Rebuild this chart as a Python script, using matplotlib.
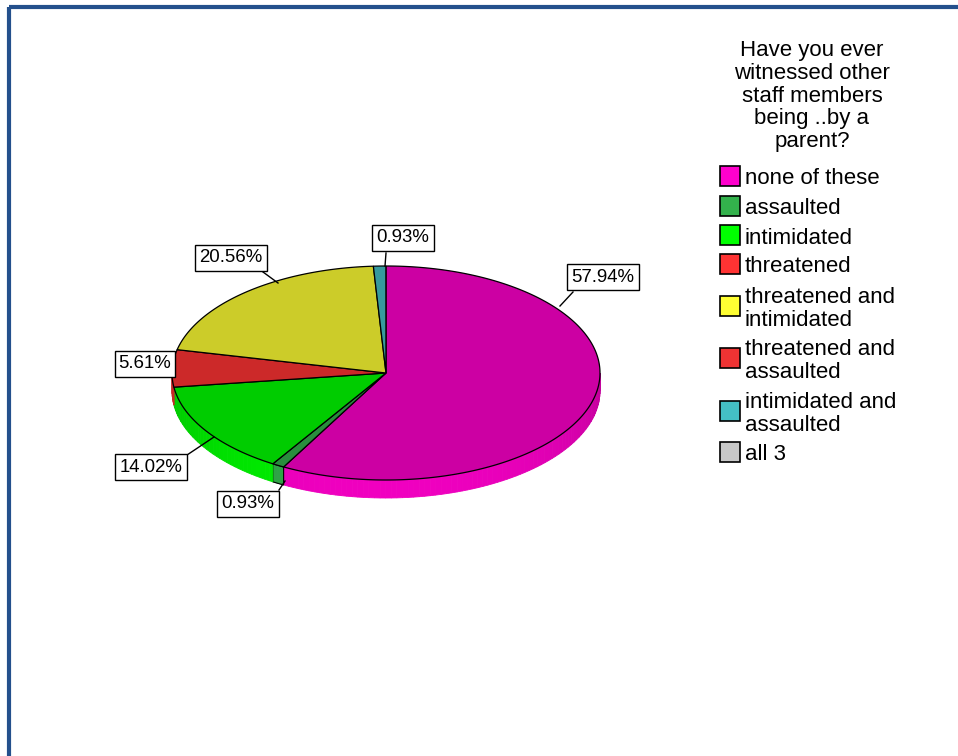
import numpy as np
import matplotlib.pyplot as plt
from matplotlib.patches import Polygon, Rectangle
from matplotlib.colors import to_rgb

plt.rcParams['font.family'] = ['Liberation Sans', 'DejaVu Sans']

# Response categories and their shares (%)
categories = ['none of these', 'assaulted', 'intimidated', 'threatened',
              'threatened and\nintimidated', 'threatened and\nassaulted',
              'intimidated and\nassaulted', 'all 3']
percents = [57.94, 0.93, 14.02, 5.61, 20.56, 0.0, 0.93, 0.0]
colors = ['#ff00cc', '#33b24c', '#00ff00', '#ff3333',
          '#ffff33', '#ee3333', '#44bfc4', '#c8c8c8']
title = 'Have you ever\nwitnessed other\nstaff members\nbeing ..by a\nparent?'

W, H = 958, 756
fig = plt.figure(figsize=(W / 100, H / 100), dpi=100)
ax = fig.add_axes([0, 0, 1, 1])
ax.set_xlim(0, W)
ax.set_ylim(H, 0)
ax.axis('off')

# outer frame (top and left edges only visible)
ax.add_patch(Rectangle((9, 7), W + 20, H + 20, fill=False, ec='#24508c', lw=3.0))

# pie geometry in pixels
cx, cy, rx, ry, depth = 386, 373, 214, 107, 18


def rim(theta_deg):
    t = np.radians(theta_deg)
    return cx + rx * np.cos(t), cy - ry * np.sin(t)


def shade(c, f):
    r, g, b = to_rgb(c)
    return (min(r * f, 1), min(g * f, 1), min(b * f, 1))


# slice angles, clockwise from 12 o'clock
slices = []
start = 90.0
for name, p, c in zip(categories, percents, colors):
    if p <= 0:
        continue
    end = start - p * 3.6
    slices.append((end, start, c))
    start = end

# side walls on the front half
for lo, hi, c in slices:
    a0, a1 = lo % 360, hi % 360
    if a1 < a0:
        a1 += 360
    segs = []
    for off in (0, 360):
        s0 = max(a0, 180 + off)
        s1 = min(a1, 360 + off)
        if s1 > s0:
            segs.append((s0, s1))
    for s0, s1 in segs:
        edges = np.arange(s0, s1, 1.5)
        edges = np.append(edges, s1)
        for t0, t1 in zip(edges[:-1], edges[1:]):
            tt = np.linspace(t0, t1, 4)
            xs, ys = rim(tt)
            pts = list(zip(xs, ys)) + list(zip(xs[::-1], ys[::-1] + depth))
            tm = np.radians((t0 + t1) / 2)
            f = 0.76 + 0.18 * max(-np.sin(tm), 0)
            col = shade(c, f)
            ax.add_patch(Polygon(pts, closed=True, fc=col, ec=col, lw=0.6))
        # outline on the wall of very thin slices
        if s1 - s0 < 6:
            tt = np.linspace(s0, s1, 4)
            xs, ys = rim(tt)
            pts = list(zip(xs, ys)) + list(zip(xs[::-1], ys[::-1] + depth))
            ax.add_patch(Polygon(pts, closed=True, fill=False, ec='black', lw=0.8))

# top faces
for lo, hi, c in slices:
    tt = np.linspace(hi, lo, max(int((hi - lo) * 2), 4))
    xs, ys = rim(tt)
    pts = [(cx, cy)] + list(zip(xs, ys))
    ax.add_patch(Polygon(pts, closed=True, fc=shade(c, 0.8), ec='black', lw=0.9))

# percentage labels with leader lines
label_vals = [57.94, 0.93, 14.02, 5.61, 20.56, 0.93]
label_pos = [(603, 277), (248, 504), (151, 467), (145, 364), (231, 258), (403, 238)]
leader_from = [(573, 292), (279, 490), (187, 455), None, (263, 272), (386, 253)]
leader_to = [(560, 306), (285, 481), (214, 437), None, (278, 283), (385, 266)]
for v, (lx, ly), a, b in zip(label_vals, label_pos, leader_from, leader_to):
    if a is not None:
        ax.plot([a[0], b[0]], [a[1], b[1]], color='black', lw=1)
    ax.text(lx, ly, '%.2f%%' % v, fontsize=13.4, ha='center', va='center',
            bbox=dict(boxstyle='square,pad=0.22', fc='white', ec='black', lw=1))

# legend title
ax.text(812, 96, title, fontsize=16, ha='center', va='center',
        multialignment='center', linespacing=1.1)

# legend entries
box_y = [176, 206, 235, 264, 306, 358, 411, 452]
for name, c, by in zip(categories, colors, box_y):
    ax.add_patch(Rectangle((720, by - 10), 20, 20, fc=c, ec='black', lw=1.2))
    ax.text(745, by + 3, name, fontsize=16, ha='left', va='center', linespacing=1.08)

fig.savefig('out.png', dpi=100)
